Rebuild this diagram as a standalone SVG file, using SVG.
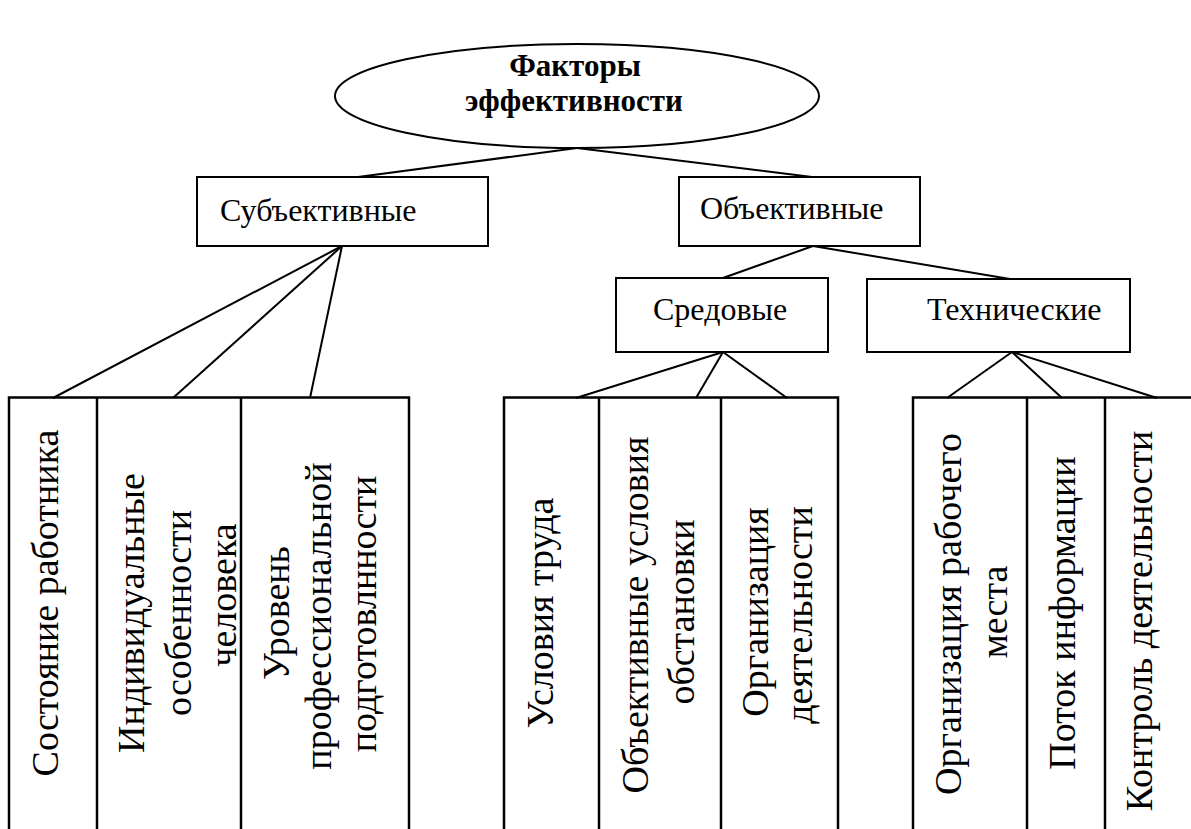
<svg xmlns="http://www.w3.org/2000/svg" width="1191" height="829" viewBox="0 0 1191 829">
<style>
.box{fill:#ffffff;stroke:#000;stroke-width:2}
.col{fill:none;stroke:#000;stroke-width:2.5}
.ln{stroke:#000;stroke-width:2;fill:none}
</style>
<rect x="0" y="0" width="1191" height="829" fill="#fff"/>
<g id="connectors">
<line class="ln" x1="577" y1="148" x2="358" y2="177"/>
<line class="ln" x1="577" y1="148" x2="812" y2="177"/>
<line class="ln" x1="342" y1="246" x2="53" y2="398"/>
<line class="ln" x1="342" y1="246" x2="173" y2="398"/>
<line class="ln" x1="342" y1="246" x2="310" y2="398"/>
<line class="ln" x1="813" y1="246" x2="723" y2="278"/>
<line class="ln" x1="813" y1="246" x2="1010" y2="279"/>
<line class="ln" x1="723" y1="352" x2="576" y2="398"/>
<line class="ln" x1="723" y1="352" x2="696" y2="398"/>
<line class="ln" x1="723" y1="352" x2="787" y2="398"/>
<line class="ln" x1="1012" y1="352" x2="947" y2="398"/>
<line class="ln" x1="1012" y1="352" x2="1062" y2="398"/>
<line class="ln" x1="1012" y1="352" x2="1157" y2="398"/>
</g>
<g id="root">
<ellipse cx="577" cy="96" rx="242" ry="52" fill="#fff" stroke="#000" stroke-width="2"/>
<text font-family="Liberation Serif" font-size="31" font-weight="bold" x="575" y="76" text-anchor="middle">Факторы</text>
<text font-family="Liberation Serif" font-size="31" font-weight="bold" x="574" y="111" text-anchor="middle">эффективности</text>
</g>
<g id="subjective">
<rect class="box" x="197" y="177" width="291" height="69"/>
<text font-family="Liberation Serif" font-size="32" x="220" y="221">Субъективные</text>
</g>
<g id="objective">
<rect class="box" x="679" y="177" width="241" height="69"/>
<text font-family="Liberation Serif" font-size="32" x="700" y="219">Объективные</text>
</g>
<g id="environmental">
<rect class="box" x="616" y="278" width="212" height="74"/>
<text font-family="Liberation Serif" font-size="32" x="653" y="320">Средовые</text>
</g>
<g id="technical">
<rect class="box" x="867" y="279" width="263" height="73"/>
<text font-family="Liberation Serif" font-size="32" x="927" y="320">Технические</text>
</g>
<g id="group-subjective">
<rect class="col" x="9" y="397.5" width="400" height="460"/>
<line class="col" x1="97" y1="397.5" x2="97" y2="829"/>
<line class="col" x1="241" y1="397.5" x2="241" y2="829"/>
</g>
<g id="f-state"><text font-family="Liberation Serif" font-size="38" text-anchor="middle" transform="translate(58,603) rotate(-90)">Состояние  работника</text></g>
<g id="f-individual">
<text font-family="Liberation Serif" font-size="38" text-anchor="middle" transform="translate(144,613) rotate(-90)">Индивидуальные</text>
<text font-family="Liberation Serif" font-size="38" text-anchor="middle" transform="translate(191,613) rotate(-90)">особенности</text>
<text font-family="Liberation Serif" font-size="38" text-anchor="middle" transform="translate(236,595) rotate(-90)">человека</text>
</g>
<g id="f-level">
<text font-family="Liberation Serif" font-size="38" text-anchor="middle" transform="translate(289,613) rotate(-90)">Уровень</text>
<text font-family="Liberation Serif" font-size="38" text-anchor="middle" transform="translate(331,616) rotate(-90)">профессиональной</text>
<text font-family="Liberation Serif" font-size="38" text-anchor="middle" transform="translate(376,614) rotate(-90)">подготовлнности</text>
</g>
<g id="group-environmental">
<rect class="col" x="504" y="397.5" width="334" height="460"/>
<line class="col" x1="599" y1="397.5" x2="599" y2="829"/>
<line class="col" x1="721" y1="397.5" x2="721" y2="829"/>
</g>
<g id="f-work-conditions"><text font-family="Liberation Serif" font-size="38" text-anchor="middle" transform="translate(553,613) rotate(-90)">Условия труда</text></g>
<g id="f-objective-conditions">
<text font-family="Liberation Serif" font-size="38" text-anchor="middle" transform="translate(648,615) rotate(-90)">Объективные условия</text>
<text font-family="Liberation Serif" font-size="38" text-anchor="middle" transform="translate(694,612) rotate(-90)">обстановки</text>
</g>
<g id="f-organization-activity">
<text font-family="Liberation Serif" font-size="38" text-anchor="middle" transform="translate(768,612) rotate(-90)">Организация</text>
<text font-family="Liberation Serif" font-size="38" text-anchor="middle" transform="translate(812,615) rotate(-90)">деятельности</text>
</g>
<g id="group-technical">
<rect class="col" x="913" y="397.5" width="320" height="460"/>
<line class="col" x1="1027" y1="397.5" x2="1027" y2="829"/>
<line class="col" x1="1105" y1="397.5" x2="1105" y2="829"/>
</g>
<g id="f-workplace">
<text font-family="Liberation Serif" font-size="38" text-anchor="middle" transform="translate(961,614) rotate(-90)">Организация рабочего</text>
<text font-family="Liberation Serif" font-size="38" text-anchor="middle" transform="translate(1007,612) rotate(-90)">места</text>
</g>
<g id="f-info-flow"><text font-family="Liberation Serif" font-size="38" text-anchor="middle" transform="translate(1075,613) rotate(-90)">Поток информации</text></g>
<g id="f-control"><text font-family="Liberation Serif" font-size="38" text-anchor="middle" transform="translate(1152,621) rotate(-90)">Контроль деятельности</text></g>
</svg>
